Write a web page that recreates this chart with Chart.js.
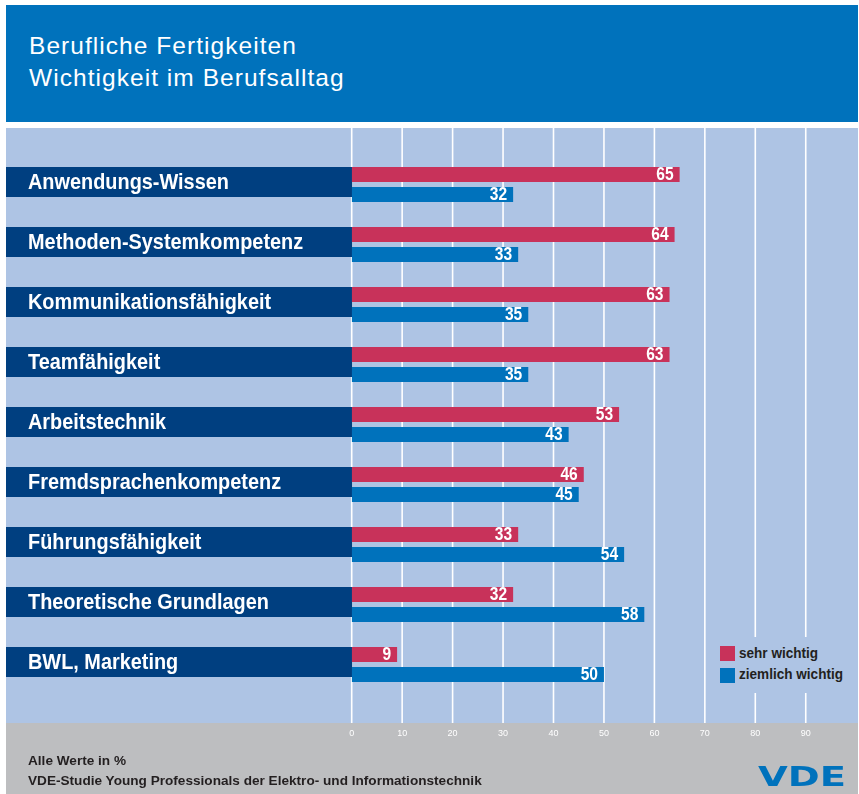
<!DOCTYPE html>
<html>
<head>
<meta charset="utf-8">
<script src="https://cdn.jsdelivr.net/npm/chart.js@4.4.1/dist/chart.umd.min.js"></script>
<style>
    html, body { margin: 0; padding: 0; background: #fff; }
    body { width: 859px; height: 794px; position: relative; overflow: hidden;
           font-family: "Liberation Sans", Arial, sans-serif; }
    #chart-canvas { position: absolute; left: 0; top: 0; }
    #header { position: absolute; left: 6px; top: 5px; width: 852px; height: 117px; background: #0072bc; }
    #header h1 { position: absolute; left: 23px; top: 24.6px; margin: 0; color: #fff; letter-spacing: 1.05px;
                 font: normal 24.5px/32.4px "Liberation Sans", Arial, sans-serif; }
    #legend { position: absolute; left: 712px; top: 637px; width: 146px; height: 56px; background: #aec4e4; }
    .leg-item { position: absolute; left: 8px; height: 15px; }
    .leg-box { position: absolute; left: 0; top: 0; width: 15px; height: 15px; }
    .leg-text { position: absolute; left: 19px; top: -3.5px; white-space: nowrap; color: #231f20;
                font-weight: bold; font-size: 15.5px; line-height: 20px; transform-origin: 0 0; }
    #footer { position: absolute; left: 28px; top: 751px; color: #231f20; font-weight: bold;
              font-size: 13.5px; line-height: 20px; white-space: nowrap; transform-origin: 0 0; }
    #logo { position: absolute; left: 758px; top: 762px; color: #0072bc; white-space: nowrap;
            font: bold 26px/30px "DejaVu Sans", sans-serif; transform: scaleX(1.48); transform-origin: 0 0; }
</style>
</head>
<body>
<canvas id="chart-canvas" width="859" height="794"></canvas>
<div id="header"><h1>Berufliche Fertigkeiten<br>Wichtigkeit im Berufsalltag</h1></div>
<div id="legend"></div>
<div id="footer"><span id="foot1">Alle Werte in %</span><br><span id="foot2">VDE-Studie Young Professionals der Elektro- und Informationstechnik</span></div>
<div id="logo">VDE</div>
<script>
// data
const categories = [
    "Anwendungs-Wissen",
    "Methoden-Systemkompetenz",
    "Kommunikationsfähigkeit",
    "Teamfähigkeit",
    "Arbeitstechnik",
    "Fremdsprachenkompetenz",
    "Führungsfähigkeit",
    "Theoretische Grundlagen",
    "BWL, Marketing"
];
const seriesNames = ["sehr wichtig", "ziemlich wichtig"];
const sehrWichtig = [65, 64, 63, 63, 53, 46, 33, 32, 9];
const ziemlichWichtig = [32, 33, 35, 35, 43, 45, 54, 58, 50];
const xTickLabels = [0, 10, 20, 30, 40, 50, 60, 70, 80, 90];

const RED = "#c8325a";
const BLUE = "#0072bc";
const NAVY = "#003f80";
const LIGHT = "#aec4e4";
const GREY = "#bdbec0";
const FONT = '"Liberation Sans", Arial, sans-serif';

// the original uses a condensed Helvetica, so squeeze Liberation Sans a bit
const CAT_SQUEEZE = 0.925;
const VAL_SQUEEZE = 0.89;

function narrowText(ctx, text, x, y, squeeze) {
    ctx.save();
    ctx.translate(x, y);
    ctx.scale(squeeze, 1);
    ctx.fillText(text, 0, 0);
    ctx.restore();
}

// backgrounds, full-height grid lines and the navy category boxes
const backdrop = {
    id: "backdrop",
    beforeDraw(chart) {
        const ctx = chart.ctx;
        const x = chart.scales.x, y = chart.scales.y;
        ctx.save();
        ctx.fillStyle = LIGHT;
        ctx.fillRect(6, 128, 852, 595);
        ctx.fillStyle = GREY;
        ctx.fillRect(6, 723, 852, 71);

        ctx.strokeStyle = "#fff";
        ctx.lineWidth = 1.6;
        xTickLabels.forEach(v => {
            const px = x.getPixelForValue(v);
            ctx.beginPath();
            ctx.moveTo(px, 128);
            ctx.lineTo(px, 723);
            ctx.stroke();
        });

        ctx.font = "bold 21.5px " + FONT;
        ctx.textBaseline = "middle";
        ctx.textAlign = "left";
        categories.forEach((c, i) => {
            const py = y.getPixelForValue(i);
            ctx.fillStyle = NAVY;
            ctx.fillRect(6, py - 17.5, x.left - 5.5, 30);
            ctx.fillStyle = "#fff";
            narrowText(ctx, c, 28, py - 1.5, CAT_SQUEEZE);
        });
        ctx.restore();
    }
};

// white value labels at the end of each bar
const valueLabels = {
    id: "valueLabels",
    afterDatasetsDraw(chart) {
        const ctx = chart.ctx;
        ctx.save();
        ctx.font = "bold 17.5px " + FONT;
        ctx.fillStyle = "#fff";
        ctx.textAlign = "right";
        ctx.textBaseline = "middle";
        chart.data.datasets.forEach((ds, d) => {
            chart.getDatasetMeta(d).data.forEach((bar, i) => {
                narrowText(ctx, String(ds.data[i]), bar.x - 6, bar.y + 0.5, VAL_SQUEEZE);
            });
        });
        ctx.restore();
    }
};

const ctx = document.getElementById("chart-canvas").getContext("2d");
const chart = new Chart(ctx, {
    type: "bar",
    data: {
        labels: categories,
        datasets: [{
            label: seriesNames[0],
            data: sehrWichtig,
            backgroundColor: RED,
            borderWidth: 0
        }, {
            label: seriesNames[1],
            data: ziemlichWichtig,
            backgroundColor: BLUE,
            borderWidth: 0
        }]
    },
    options: {
        indexAxis: "y",
        responsive: false,
        animation: false,
        devicePixelRatio: 1,
        datasets: {
            bar: { categoryPercentage: 2 / 3, barPercentage: 0.75 }
        },
        layout: { padding: { top: 154.5, left: 0, right: 2.8, bottom: 0 } },
        scales: {
            x: {
                type: "linear",
                min: 0,
                max: 100,
                grid: { display: false, drawTicks: false },
                border: { display: false },
                afterBuildTicks: (axis) => {
                    axis.ticks = xTickLabels.map(v => ({ value: v }));
                },
                afterFit: (axis) => { axis.height = 99.5; },
                ticks: {
                    color: "#fff",
                    padding: 34,
                    font: { size: 9, family: FONT }
                }
            },
            y: {
                grid: { display: false, drawTicks: false },
                border: { display: false },
                ticks: { display: false },
                afterFit: (axis) => { axis.width = 351.7; }
            }
        },
        plugins: {
            legend: { display: false },
            tooltip: { enabled: false }
        }
    },
    plugins: [backdrop, valueLabels]
});

// legend built from the chart's datasets
const legend = document.getElementById("legend");
chart.data.datasets.forEach((ds, i) => {
    const item = document.createElement("div");
    item.className = "leg-item";
    item.style.top = (9 + i * 21.5) + "px";
    item.innerHTML = '<div class="leg-box" style="background:' + ds.backgroundColor + '"></div>' +
        '<div class="leg-text">' + ds.label + '</div>';
    legend.appendChild(item);
});

// squeeze the html text to the condensed widths of the original
const legTexts = document.querySelectorAll(".leg-text");
const legScale = 104 / legTexts[1].getBoundingClientRect().width;
legTexts.forEach(el => { el.style.transform = "scaleX(" + legScale + ")"; });
const footer = document.getElementById("footer");
const footScale = 453.7 / document.getElementById("foot2").getBoundingClientRect().width;
footer.style.transform = "scaleX(" + footScale + ")";
</script>
</body>
</html>
